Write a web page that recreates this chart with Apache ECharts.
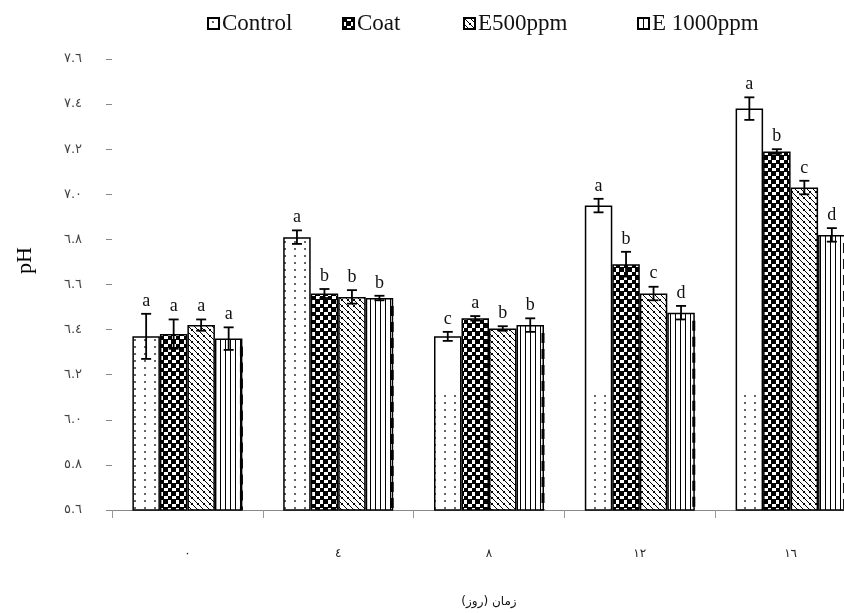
<!DOCTYPE html>
<html>
<head>
<meta charset="utf-8">
<script src="https://cdn.jsdelivr.net/npm/echarts@6/dist/echarts.min.js"></script>
<style>
  html, body { margin: 0; padding: 0; background: #fff; overflow: hidden; }
  #chart { width: 870px; height: 613px; }
</style>
</head>
<body>
<div id="chart"></div>
<script>
// روزها (x categories) and y tick labels
const days = ['٠', '٤', '٨', '١٢', '١٦']
const yTickLabels = ['٥.٦', '٥.٨', '٦.٠', '٦.٢', '٦.٤', '٦.٦', '٦.٨', '٧.٠', '٧.٢', '٧.٤', '٧.٦']
const treatments = ['Control', 'Coat', 'E500ppm', 'E 1000ppm']

// pH means
const controlPH = [6.37, 6.81, 6.37, 6.95, 7.38]
const coatPH = [6.38, 6.56, 6.45, 6.69, 7.19]
const e500PH = [6.42, 6.545, 6.405, 6.56, 7.03]
const e1000PH = [6.36, 6.54, 6.42, 6.475, 6.82]

// standard errors
const controlErr = [0.10, 0.03, 0.02, 0.03, 0.05]
const coatErr = [0.065, 0.02, 0.01, 0.055, 0.01]
const e500Err = [0.025, 0.03, 0.01, 0.03, 0.03]
const e1000Err = [0.05, 0.01, 0.03, 0.03, 0.03]

// Duncan letters
const controlLetters = ['a', 'a', 'c', 'a', 'a']
const coatLetters = ['a', 'b', 'a', 'b', 'b']
const e500Letters = ['a', 'b', 'b', 'c', 'c']
const e1000Letters = ['a', 'b', 'b', 'd', 'd']

const means = [controlPH, coatPH, e500PH, e1000PH]
const errs = [controlErr, coatErr, e500Err, e1000Err]
const letters = [controlLetters, coatLetters, e500Letters, e1000Letters]

const BAR_W = 27.5
const serif = '"Liberation Serif", "Times New Roman", serif'

// pattern fills (black & white like the original print)
function makeTile (w, h, draw) {
  const c = document.createElement('canvas')
  c.width = w
  c.height = h
  const ctx = c.getContext('2d')
  ctx.fillStyle = '#fff'
  ctx.fillRect(0, 0, w, h)
  ctx.fillStyle = '#000'
  draw(ctx)
  return { image: c, repeat: 'repeat' }
}
// the scanned print lost the dots on the upper part of the later bars
const dots = makeTile(870, 613, ctx => {
  ctx.fillStyle = '#666'
  for (let y = 3; y < 613; y += 7) {
    for (let x = 4; x < 870; x += 10) {
      if (x < 420 || y > 390) ctx.fillRect(x, y, 2, 2)
    }
  }
})
const checker = makeTile(8, 8, ctx => {
  ctx.fillRect(0, 0, 4, 4)
  ctx.fillRect(4, 4, 4, 4)
  ctx.fillRect(0, 3, 8, 1)
  ctx.fillRect(3, 0, 1, 8)
})
const zigzag = makeTile(6, 6, ctx => {
  for (let i = 0; i < 6; i++) {
    ctx.fillRect(i, i, 1, 1)
  }
  ctx.fillRect(5, 0, 1, 1)
  ctx.fillRect(0, 5, 1, 1)
})
const stripes = makeTile(5, 4, ctx => {
  ctx.fillRect(0, 0, 1, 4)
})
const fills = [dots, checker, zigzag, stripes]

const chart = echarts.init(document.getElementById('chart'))

const barSeries = treatments.map((name, i) => ({
  name: name,
  type: 'bar',
  barWidth: BAR_W,
  barGap: '0%',
  data: means[i],
  itemStyle: {
    color: fills[i],
    borderColor: '#000',
    borderWidth: 1.5
  },
  z: 2
}))

const errSeries = treatments.map((name, i) => ({
  type: 'custom',
  name: name + '-err',
  data: means[i].map((m, k) => [k, m, errs[i][k]]),
  encode: { x: 0, y: 1 },
  z: 5,
  silent: true,
  renderItem (params, api) {
    const k = api.value(0)
    const m = api.value(1)
    const e = api.value(2)
    const off = (i - 1.5) * BAR_W
    const top = api.coord([k, m + e])
    const bot = api.coord([k, m - e])
    const mid = api.coord([k, m])
    const base = api.coord([k, 5.6])
    const x = top[0] + off
    const style = { stroke: '#000', lineWidth: 1.8 }
    const children = [
      { type: 'line', shape: { x1: x, y1: top[1], x2: x, y2: bot[1] }, style },
      { type: 'line', shape: { x1: x - 5, y1: top[1], x2: x + 5, y2: top[1] }, style },
      { type: 'line', shape: { x1: x - 5, y1: bot[1], x2: x + 5, y2: bot[1] }, style },
      {
        type: 'text',
        style: {
          text: letters[i][k],
          x: x,
          y: top[1] - 4,
          align: 'center',
          verticalAlign: 'bottom',
          font: '18px ' + serif,
          fill: '#111'
        }
      }
    ]
    if (i === 3) {
      // dashed thick right edge of the E 1000ppm bars
      const rx = mid[0] + off + BAR_W / 2 - 1
      children.push({
        type: 'line',
        shape: { x1: rx, y1: mid[1] + 8, x2: rx, y2: base[1] },
        style: { stroke: '#000', lineWidth: 3, lineDash: [10, 6] }
      })
    }
    return { type: 'group', children }
  }
}))

const legendLeft = [202, 337, 458, 632]
const legends = treatments.map((name, i) => ({
  data: [name],
  left: legendLeft[i],
  top: 7,
  icon: 'rect',
  itemWidth: 11,
  itemHeight: 11,
  itemGap: 0,
  textStyle: { fontFamily: serif, fontSize: 23, color: '#111', padding: [0, 0, 0, -2] }
}))

chart.setOption({
  animation: false,
  legend: legends,
  grid: { left: 112, top: 59, bottom: 97, width: 754 },
  xAxis: {
    type: 'category',
    data: days,
    name: 'زمان (روز)',
    nameLocation: 'middle',
    nameGap: 86,
    nameTextStyle: { fontFamily: 'DejaVu Sans', fontSize: 12, color: '#111' },
    axisLine: { lineStyle: { color: '#888', width: 1.2 } },
    axisTick: { show: true, length: 8, lineStyle: { color: '#999' } },
    axisLabel: { margin: 38, fontFamily: 'DejaVu Sans', fontSize: 12, color: '#222' }
  },
  yAxis: {
    type: 'value',
    min: 5.6,
    max: 7.6,
    interval: 0.2,
    name: 'pH',
    nameLocation: 'middle',
    nameGap: 76,
    nameTextStyle: { fontFamily: serif, fontSize: 22, color: '#000', padding: [0, 0, 0, 48] },
    axisLine: { show: false },
    axisTick: { show: true, length: 6, inside: false, lineStyle: { color: '#888' } },
    splitLine: { show: false },
    axisLabel: {
      margin: 30,
      fontFamily: 'DejaVu Sans',
      fontSize: 13,
      color: '#444',
      formatter: v => yTickLabels[Math.round((v - 5.6) / 0.2)]
    }
  },
  series: barSeries.concat(errSeries)
})
</script>
</body>
</html>
